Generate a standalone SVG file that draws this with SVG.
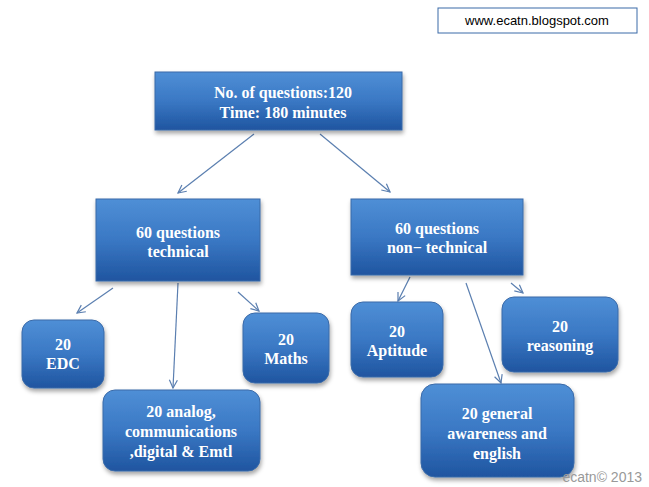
<svg xmlns="http://www.w3.org/2000/svg" width="649" height="487" viewBox="0 0 649 487">
<style>
.b{stroke:#3a6aa8;stroke-width:1}
.t{font-family:"Liberation Serif",serif;font-size:16px;font-weight:bold;fill:#fff;text-anchor:middle}
.c{stroke:#5b7fb0;stroke-width:1.2;fill:none;marker-end:url(#a)}
</style>
<defs>
<linearGradient id="g" x1="0" y1="0" x2="0" y2="1"><stop offset="0" stop-color="#4f8fd6"/><stop offset="0.5" stop-color="#3a78c4"/><stop offset="1" stop-color="#1f55a0"/></linearGradient>
<filter id="s" x="-10%" y="-10%" width="130%" height="140%"><feDropShadow dx="1" dy="3" stdDeviation="2" flood-opacity="0.35"/></filter>
<marker id="a" markerWidth="10" markerHeight="10" refX="9" refY="5" orient="auto" markerUnits="userSpaceOnUse"><path d="M1,1 L9,5 L1,9" fill="none" stroke="#5b7fb0" stroke-width="1.2"/></marker>
</defs>
<rect width="649" height="487" fill="#fff"/>
<g id="site"><rect x="438" y="8" width="199" height="25" fill="#fff" stroke="#3a6aa8"/><text x="537" y="25" font-family="Liberation Sans,sans-serif" font-size="13" text-anchor="middle">www.ecatn.blogspot.com</text></g>
<g id="connectors">
<line class="c" x1="254" y1="134" x2="178" y2="193"/>
<line class="c" x1="320" y1="134" x2="390" y2="192"/>
<line class="c" x1="113" y1="288" x2="77" y2="313"/>
<line class="c" x1="178" y1="283" x2="173" y2="388"/>
<line class="c" x1="238" y1="292" x2="259" y2="311"/>
<line class="c" x1="410" y1="277" x2="398" y2="301"/>
<line class="c" x1="466" y1="283" x2="501" y2="383"/>
<line class="c" x1="511" y1="283" x2="523" y2="293"/>
</g>
<g id="top"><rect class="b" x="155" y="72" width="247" height="58" fill="url(#g)" filter="url(#s)"/><text class="t" x="283" y="98">No. of questions:120</text><text class="t" x="283" y="118">Time: 180 minutes</text></g>
<g id="tech"><rect class="b" x="96" y="199" width="164" height="82" fill="url(#g)" filter="url(#s)"/><text class="t" x="178" y="238">60 questions</text><text class="t" x="178" y="257">technical</text></g>
<g id="nontech"><rect class="b" x="351" y="199" width="172" height="76" fill="url(#g)" filter="url(#s)"/><text class="t" x="437" y="234">60 questions</text><text class="t" x="437" y="253">non− technical</text></g>
<g id="edc"><rect class="b" x="22" y="320" width="82" height="68" rx="12" fill="url(#g)" filter="url(#s)"/><text class="t" x="63" y="350">20</text><text class="t" x="63" y="369">EDC</text></g>
<g id="maths"><rect class="b" x="243" y="313" width="86" height="70" rx="12" fill="url(#g)" filter="url(#s)"/><text class="t" x="286" y="345">20</text><text class="t" x="286" y="364">Maths</text></g>
<g id="analog"><rect class="b" x="103" y="390" width="157" height="81" rx="12" fill="url(#g)" filter="url(#s)"/><text class="t" x="181" y="417">20 analog,</text><text class="t" x="181" y="437">communications</text><text class="t" x="181" y="457">,digital &amp; Emtl</text></g>
<g id="aptitude"><rect class="b" x="351" y="302" width="92" height="75" rx="12" fill="url(#g)" filter="url(#s)"/><text class="t" x="397" y="337">20</text><text class="t" x="397" y="356">Aptitude</text></g>
<g id="reasoning"><rect class="b" x="502" y="297" width="116" height="75" rx="12" fill="url(#g)" filter="url(#s)"/><text class="t" x="560" y="332">20</text><text class="t" x="560" y="351">reasoning</text></g>
<g id="general"><rect class="b" x="421" y="384" width="153" height="93" rx="14" fill="url(#g)" filter="url(#s)"/><text class="t" x="497" y="419">20 general</text><text class="t" x="497" y="439">awareness and</text><text class="t" x="497" y="459">english</text></g>
<text x="642" y="482" font-family="Liberation Sans,sans-serif" font-size="14" fill="#999" text-anchor="end">ecatn© 2013</text>
</svg>
